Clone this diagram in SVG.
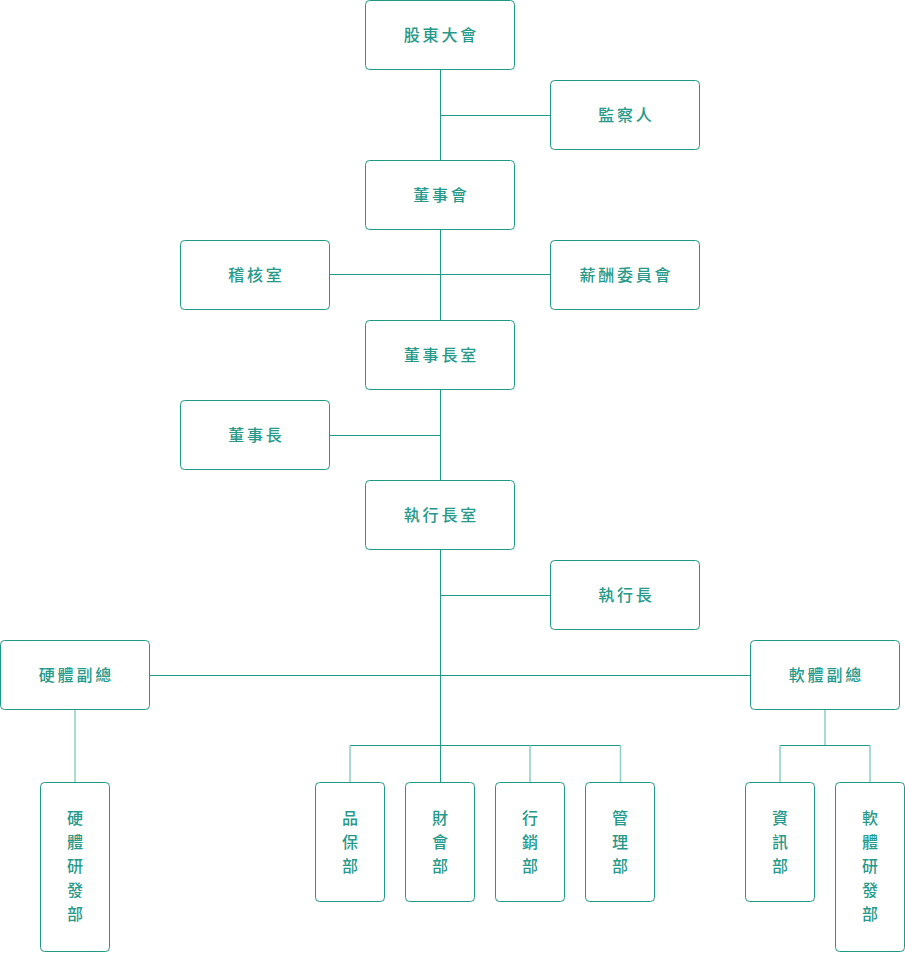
<svg xmlns="http://www.w3.org/2000/svg" width="905" height="953" viewBox="0 0 905 953">
<style>
.box{fill:#fff;stroke:#1f9985;stroke-width:1}
.t{font-family:"Noto Sans CJK TC","Noto Sans CJK SC",sans-serif;font-size:16px;font-weight:500;fill:#26998a;text-anchor:middle}
.h{letter-spacing:2.8px}
.d{stroke:#1f9985;stroke-width:1;fill:none}
.l{stroke:#8ccfc4;stroke-width:1.5;fill:none}
</style>
<rect width="905" height="953" fill="#fff"/>
<g id="connectors">
<path class="d" d="M440.5 70V782"/>
<path class="d" d="M440.5 115.5H550"/>
<path class="d" d="M330 274.5H550"/>
<path class="d" d="M330 435.5H440.5"/>
<path class="d" d="M440.5 595.5H550"/>
<path class="d" d="M150 675.5H750"/>
<path class="d" d="M350 745.5H620.5"/>
<path class="l" d="M350 745.5V782M530 745.5V782M620.5 745.5V782"/>
<path class="l" d="M75 710V782"/>
<path class="l" d="M825 710V745.5"/>
<path class="d" d="M780 745.5H870"/>
<path class="l" d="M780 745.5V782M870 745.5V782"/>
</g>
<g id="n1"><rect class="box" x="365.5" y="0.5" width="149" height="69" rx="4"/><text class="t h" x="441.4" y="41">股東大會</text></g>
<g id="n2"><rect class="box" x="550.5" y="80.5" width="149" height="69" rx="4"/><text class="t h" x="626.4" y="121">監察人</text></g>
<g id="n3"><rect class="box" x="365.5" y="160.5" width="149" height="69" rx="4"/><text class="t h" x="441.4" y="201">董事會</text></g>
<g id="n4"><rect class="box" x="180.5" y="240.5" width="149" height="69" rx="4"/><text class="t h" x="256.4" y="281">稽核室</text></g>
<g id="n5"><rect class="box" x="550.5" y="240.5" width="149" height="69" rx="4"/><text class="t h" x="626.4" y="281">薪酬委員會</text></g>
<g id="n6"><rect class="box" x="365.5" y="320.5" width="149" height="69" rx="4"/><text class="t h" x="441.4" y="361">董事長室</text></g>
<g id="n7"><rect class="box" x="180.5" y="400.5" width="149" height="69" rx="4"/><text class="t h" x="256.4" y="441">董事長</text></g>
<g id="n8"><rect class="box" x="365.5" y="480.5" width="149" height="69" rx="4"/><text class="t h" x="441.4" y="521">執行長室</text></g>
<g id="n9"><rect class="box" x="550.5" y="560.5" width="149" height="69" rx="4"/><text class="t h" x="626.4" y="601">執行長</text></g>
<g id="n10"><rect class="box" x="0.5" y="640.5" width="149" height="69" rx="4"/><text class="t h" x="76.4" y="681">硬體副總</text></g>
<g id="n11"><rect class="box" x="750.5" y="640.5" width="149" height="69" rx="4"/><text class="t h" x="826.4" y="681">軟體副總</text></g>
<g id="n12"><rect class="box" x="40.5" y="782.5" width="69" height="169" rx="4"/><text class="t" x="75" y="824">硬</text><text class="t" x="75" y="848">體</text><text class="t" x="75" y="872">研</text><text class="t" x="75" y="896">發</text><text class="t" x="75" y="920">部</text></g>
<g id="n13"><rect class="box" x="315.5" y="782.5" width="69" height="119" rx="4"/><text class="t" x="350" y="824">品</text><text class="t" x="350" y="848">保</text><text class="t" x="350" y="872">部</text></g>
<g id="n14"><rect class="box" x="405.5" y="782.5" width="69" height="119" rx="4"/><text class="t" x="440" y="824">財</text><text class="t" x="440" y="848">會</text><text class="t" x="440" y="872">部</text></g>
<g id="n15"><rect class="box" x="495.5" y="782.5" width="69" height="119" rx="4"/><text class="t" x="530" y="824">行</text><text class="t" x="530" y="848">銷</text><text class="t" x="530" y="872">部</text></g>
<g id="n16"><rect class="box" x="585.5" y="782.5" width="69" height="119" rx="4"/><text class="t" x="620" y="824">管</text><text class="t" x="620" y="848">理</text><text class="t" x="620" y="872">部</text></g>
<g id="n17"><rect class="box" x="745.5" y="782.5" width="69" height="119" rx="4"/><text class="t" x="780" y="824">資</text><text class="t" x="780" y="848">訊</text><text class="t" x="780" y="872">部</text></g>
<g id="n18"><rect class="box" x="835.5" y="782.5" width="69" height="169" rx="4"/><text class="t" x="870" y="824">軟</text><text class="t" x="870" y="848">體</text><text class="t" x="870" y="872">研</text><text class="t" x="870" y="896">發</text><text class="t" x="870" y="920">部</text></g>
</svg>
